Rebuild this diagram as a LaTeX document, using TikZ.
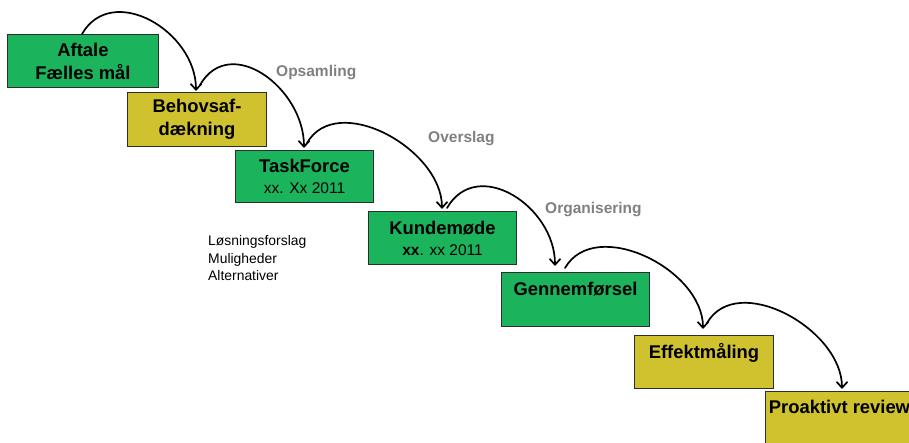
\documentclass[tikz,border=0pt]{standalone}
\usepackage{fontspec}
\setmainfont{Liberation Sans}
\usetikzlibrary{arrows.meta}
\definecolor{boxgreen}{RGB}{27,179,92}
\definecolor{boxyellow}{RGB}{208,194,46}
\definecolor{labelgray}{RGB}{128,128,128}
\definecolor{edgegray}{RGB}{45,45,45}
\begin{document}
\begin{tikzpicture}[x=1pt,y=1pt,
  stage/.style={draw=edgegray, line width=1pt, anchor=north west, inner sep=0pt, align=center,
    font=\bfseries\fontsize{18.4}{23}\selectfont, text=black},
  greenbox/.style={stage, fill=boxgreen},
  yellowbox/.style={stage, fill=boxyellow},
  flow/.style={-{Straight Barb[length=6pt,width=11pt]}, line width=1.7pt, line cap=round,
    out=60, in=90, out distance=60pt, in distance=60pt},
  phase/.style={anchor=west, inner sep=0pt, text=labelgray, font=\bfseries\fontsize{15.5}{18}\selectfont}]
\useasboundingbox (0,0) rectangle (909,-443);
\clip (0,0) rectangle (909,-443);
\fill[white] (0,0) rectangle (909,-443);

\node[greenbox, minimum width=151pt, minimum height=53pt] (b1) at (7,-34) {Aftale\\Fælles mål};
\node[yellowbox, minimum width=139pt, minimum height=54pt] (b2) at (127,-92) {Behovsaf-\\dækning};
\node[greenbox, minimum width=138pt, minimum height=52pt] (b3) at (235,-150)
  {TaskForce\\[-2pt]{\mdseries\fontsize{15.5}{20}\selectfont xx. Xx 2011}};
\node[greenbox, minimum width=148pt, minimum height=53pt] (b4) at (368,-211)
  {Kundemøde\\[-2pt]{\fontsize{15.5}{20}\selectfont xx\mdseries. xx 2011}};
\node[greenbox, minimum width=148pt, minimum height=54pt] (b5) at (501,-272) {Gennemførsel\\[-8pt]\strut};
\node[yellowbox, minimum width=139pt, minimum height=53pt] (b6) at (634,-335) {Effektmåling\\[-8pt]\strut};
\node[yellowbox, minimum width=148pt, minimum height=54pt] (b7) at (765,-391) {Proaktivt review\\[-6pt]\strut};

\draw[flow] ([xshift=75pt]b1.north west) to ([xshift=69pt,yshift=1pt]b2.north west);
\draw[flow] ([xshift=73pt,yshift=7pt]b2.north west) to ([xshift=69pt,yshift=2pt]b3.north west);
\draw[flow] ([xshift=72pt,yshift=7pt]b3.north west) to ([xshift=74pt,yshift=2pt]b4.north west);
\draw[flow] ([xshift=79pt,yshift=3pt]b4.north west) to ([xshift=54pt,yshift=6pt]b5.north west);
\draw[flow] ([xshift=64pt,yshift=4pt]b5.north west) to ([xshift=69pt,yshift=6pt]b6.north west);
\draw[flow] ([xshift=73pt,yshift=12pt]b6.north west) to ([xshift=77pt,yshift=2pt]b7.north west);

\node[phase] (l1) at (276,-73) {Opsamling};
\node[phase] (l2) at (428,-139) {Overslag};
\node[phase] (l3) at (545,-210) {Organisering};

\node[anchor=north west, inner sep=0pt, align=left, font=\fontsize{13.9}{17.6}\selectfont] (notes)
  at (208,-235.5) {Løsningsforslag\\Muligheder\\Alternativer};
\end{tikzpicture}
\end{document}
